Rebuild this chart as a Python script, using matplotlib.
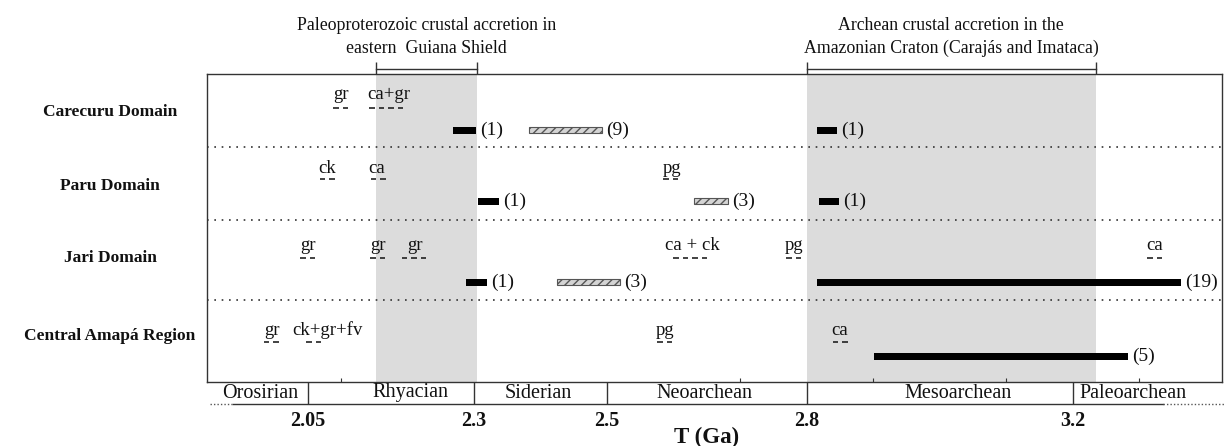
import numpy as np
import matplotlib.pyplot as plt
from matplotlib.transforms import blended_transform_factory

plt.rcParams['font.family'] = ['Liberation Serif', 'DejaVu Serif']
plt.rcParams['hatch.linewidth'] = 1.0
plt.rcParams['hatch.color'] = '#555555'

# domains (rows, top to bottom)
rows = ['Carecuru Domain', 'Paru Domain', 'Jari Domain', 'Central Amapá Region']

# age ranges (Ga) with number of samples
bar_row = [0, 0, 0, 1, 1, 1, 2, 2, 2, 3]
bar_start = [2.268, 2.383, 2.816, 2.306, 2.631, 2.819, 2.288, 2.425, 2.816, 2.901]
bar_end = [2.303, 2.493, 2.846, 2.338, 2.682, 2.849, 2.320, 2.520, 3.363, 3.283]
bar_hatched = [False, True, False, False, True, False, False, True, False, False]
bar_count = [1, 9, 1, 1, 3, 1, 1, 3, 19, 5]

# rock type labels with dashed underline
rock_row = [0, 0, 1, 1, 1, 2, 2, 2, 2, 2, 2, 3, 3, 3, 3]
rock_text = ['gr', 'ca+gr', 'ck', 'ca', 'pg', 'gr', 'gr', 'gr', 'ca + ck', 'pg', 'ca',
             'gr', 'ck+gr+fv', 'pg', 'ca']
rock_age = [2.100, 2.172, 2.079, 2.154, 2.598, 2.050, 2.156, 2.211, 2.628, 2.781, 3.324,
            1.996, 2.079, 2.587, 2.850]
rock_dash_age = [2.100, 2.168, 2.079, 2.156, 2.596, 2.050, 2.155, 2.210, 2.625, 2.781, 3.324,
                 1.995, 2.059, 2.587, 2.851]
rock_dashes = [2, 4, 2, 2, 2, 2, 2, 3, 4, 2, 2, 2, 2, 2, 2]

# geological periods
periods = ['Orosirian', 'Rhyacian', 'Siderian', 'Neoarchean', 'Mesoarchean', 'Paleoarchean']
period_bounds = [2.05, 2.3, 2.5, 2.8, 3.2]
tick_labels = ['2.05', '2.3', '2.5', '2.8', '3.2']

# crustal accretion windows
accretion_span = [(2.152, 2.305), (2.80, 3.235)]
accretion_title = ['Paleoproterozoic crustal accretion in\neastern  Guiana Shield',
                   'Archean crustal accretion in the\nAmazonian Craton (Carajás and Imataca)']

# ---- layout (pixel-like units inside the box, y pointing down) ----
W, H = 1226, 446
box_l, box_r, box_t, box_b = 207, 1222, 74, 382
x0, x1 = 1.8985, 3.4248
px = (x1 - x0) / (box_r - box_l)          # Ga per pixel
row_edges = [0, 73, 146, 226, 308]
text_y = [25, 99, 176, 261]
dash_y = [34, 105, 184, 268]
bar_y = [56, 127, 208, 282]
rowlab_y = [38, 112, 184, 262]
period_mid = [1.978, 2.205, 2.396, 2.646, 3.028, 3.291]
ink = '#111111'

fig = plt.figure(figsize=(W / 100, H / 100), dpi=100)
ax = fig.add_axes([box_l / W, 1 - box_b / H, (box_r - box_l) / W, (box_b - box_t) / H])
ax.set_xlim(x0, x1)
ax.set_ylim(row_edges[-1], 0)
ax.set_yticks([])
for s in ax.spines.values():
    s.set_color('#333333')
    s.set_linewidth(1.0)

# gray accretion windows + brackets + titles
for (a, b), title in zip(accretion_span, accretion_title):
    ax.axvspan(a, b, color='#dcdcdc', lw=0, zorder=0)
    ax.plot([a, b], [-5, -5], color='#333333', lw=1.0, clip_on=False)
    ax.vlines([a, b], -12, 0, color='#333333', lw=1.0, clip_on=False)
    ax.text((a + b) / 2, -37, title, ha='center', va='center', fontsize=12.8,
            linespacing=1.45, color=ink)

# dotted row dividers
ax.hlines(row_edges[1:-1], x0, x1, colors='#333333', linestyles=(0, (1, 3.4)), lw=1.2)

# row labels
tr = blended_transform_factory(ax.transAxes, ax.transData)
for name, y in zip(rows, rowlab_y):
    ax.text((110 - box_l) / (box_r - box_l), y, name, transform=tr, ha='center',
            va='center', fontsize=12.5, fontweight='bold', color=ink)

# age bars
for r, a, b, h, n in zip(bar_row, bar_start, bar_end, bar_hatched, bar_count):
    if h:
        ax.barh(bar_y[r], b - a, left=a, height=6, color='#d4d4d4', edgecolor='#555555',
                hatch='////', lw=0.8, zorder=3)
    else:
        ax.barh(bar_y[r], b - a, left=a, height=7, color='black', lw=0, zorder=3)
    ax.annotate(f'({n})', xy=(b, bar_y[r]), xytext=(3, 0), textcoords='offset points',
                ha='left', va='center', fontsize=14, color=ink)

# rock labels with dashed underline
dash_len, dash_pitch = 5.5, 9.5
for r, t, a, da, nd in zip(rock_row, rock_text, rock_age, rock_dash_age, rock_dashes):
    ax.text(a, text_y[r], t, ha='center', va='baseline', fontsize=13.5, color=ink)
    total = (nd - 1) * dash_pitch + dash_len
    for k in range(nd):
        s = da - total * px / 2 + k * dash_pitch * px
        ax.plot([s, s + dash_len * px], [dash_y[r]] * 2, color='#222222', lw=1.2,
                solid_capstyle='butt')

# period row below the box
pb = row_edges[-1] + 22
ax.vlines(period_bounds, row_edges[-1], pb, color='#333333', lw=1.0, clip_on=False)
ax.plot([1.938, 3.336], [pb, pb], color='#333333', lw=1.0, clip_on=False)
ax.plot([1.903, 1.938], [pb, pb], color='#555555', lw=1.0, ls=(0, (1, 1.5)), clip_on=False)
ax.plot([3.336, 3.43], [pb, pb], color='#555555', lw=1.0, ls=(0, (1, 1.5)), clip_on=False)
for name, m in zip(periods, period_mid):
    ax.text(m, (row_edges[-1] + pb) / 2, name, ha='center', va='center', fontsize=14.5,
            color=ink)

# ticks
ax.set_xticks(period_bounds, tick_labels)
ax.set_xticks(np.arange(2.1, 3.35, 0.2), minor=True)
ax.tick_params(axis='x', which='major', length=0, pad=21, labelsize=14.5, labelcolor=ink)
ax.tick_params(axis='x', which='minor', direction='in', length=3, width=0.8, color='#333333')
for lab in ax.get_xticklabels():
    lab.set_fontweight('bold')
ax.text(2.65, 363, 'T (Ga)', ha='center', va='center', fontsize=16.5, fontweight='bold',
        color=ink)

fig.savefig('out.png', dpi=100)
